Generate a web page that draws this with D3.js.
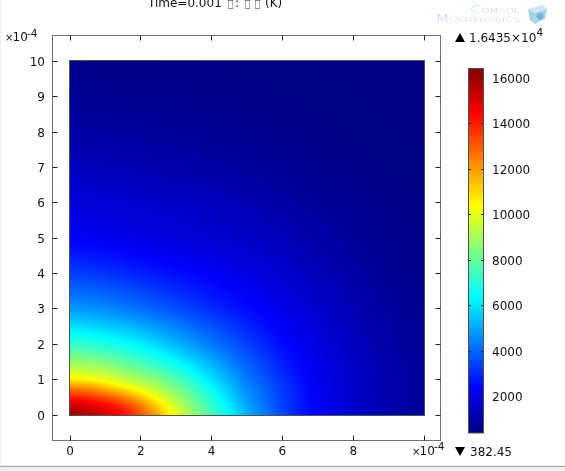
<!DOCTYPE html>
<html>
<head>
<meta charset="utf-8">
<title></title>
<script src="https://d3js.org/d3.v7.min.js"></script>
<style>
  html, body { margin: 0; padding: 0; background: #fff; overflow: hidden; }
  #chart { position: relative; width: 565px; height: 471px; }
  #chart canvas, #chart svg { position: absolute; left: 0; top: 0; }
  text { font-family: "DejaVu Sans", sans-serif; font-size: 12px; fill: #111; }
</style>
</head>
<body>
<div id="chart"></div>
<script>
// grid nodes of the surface, in units of 1e-4
var xNodes = [0, 0.5, 1, 1.5, 2, 2.5, 3, 3.5, 4, 4.5, 5, 6, 7, 8, 9, 10];
var yNodes = [0, 0.25, 0.5, 0.75, 1, 1.5, 2, 2.5, 3, 4, 5, 6, 7, 8, 9, 10];

// temperature, one row per yNodes entry
var temperature = [
  [16435, 15800, 15200, 14550, 13370, 11940, 10220, 8860, 7670, 6560, 5300, 3470, 2230, 1590, 1130, 750],
  [15245, 15050, 14600, 13725, 12720, 11050, 9550, 8430, 7230, 6058, 4981, 3400, 2224, 1590, 1130, 750],
  [13935, 13700, 13220, 12560, 11350, 10062, 9023, 7956, 6846, 5800, 4800, 3350, 2205, 1590, 1130, 745],
  [12565, 12380, 11525, 10685, 9896, 9135, 8355, 7400, 6402, 5490, 4580, 3300, 2170, 1560, 1110, 735],
  [10415, 10250, 9900, 9400, 8900, 8420, 7620, 6800, 5970, 5130, 4320, 3116, 2150, 1600, 1120, 745],
  [8736, 8580, 8350, 7860, 7365, 6875, 6350, 5730, 5090, 4440, 3890, 2820, 2040, 1460, 1075, 700],
  [7258, 7020, 6770, 6529, 6180, 5710, 5240, 4775, 4310, 3860, 3400, 2500, 1910, 1380, 1000, 670],
  [5930, 5790, 5600, 5370, 5070, 4740, 4400, 4030, 3670, 3300, 2930, 2260, 1760, 1310, 960, 650],
  [4750, 4670, 4530, 4350, 4090, 3830, 3570, 3300, 3040, 2770, 2510, 2048, 1604, 1216, 876, 620],
  [3325, 3260, 3150, 3000, 2850, 2690, 2560, 2430, 2270, 2110, 1950, 1635, 1320, 1010, 700, 570],
  [2268, 2210, 2130, 2050, 1960, 1880, 1800, 1720, 1650, 1580, 1510, 1320, 1050, 790, 630, 520],
  [1800, 1770, 1720, 1670, 1610, 1550, 1510, 1450, 1400, 1300, 1200, 990, 790, 660, 530, 470],
  [1350, 1320, 1270, 1220, 1170, 1120, 1070, 1020, 970, 920, 850, 730, 620, 520, 460, 430],
  [975, 950, 920, 890, 860, 820, 790, 760, 720, 680, 650, 570, 500, 455, 420, 400],
  [680, 675, 665, 650, 635, 620, 600, 580, 560, 540, 520, 480, 450, 420, 400, 390],
  [520, 515, 510, 505, 495, 485, 475, 465, 455, 445, 435, 420, 405, 395, 385, 382]
];

var tMin = 382.45, tMax = 16435;
var axisTicks = [0, 1, 2, 3, 4, 5, 6, 7, 8, 9, 10];
var xLabelTicks = [0, 2, 4, 6, 8];
var barTicks = [2000, 4000, 6000, 8000, 10000, 12000, 14000, 16000];
var jetStops = [0, 0.125, 0.375, 0.625, 0.875, 1];
var jetColors = ["#000080", "#0000ff", "#00ffff", "#ffff00", "#ff0000", "#800000"];

var width = 565, height = 471;

var x = d3.scaleLinear().domain([0, 10]).range([69.5, 423.5]);
var y = d3.scaleLinear().domain([0, 10]).range([414.5, 61]);
var barY = d3.scaleLinear().domain([tMin, tMax]).range([433, 68]);

var color = d3.scaleLinear()
  .domain(jetStops.map(function (s) { return tMin + s * (tMax - tMin); }))
  .range(jetColors)
  .clamp(true);

// canvas for the surface and the colour bar
var canvas = d3.select("#chart").append("canvas")
  .attr("width", width).attr("height", height);
var ctx = canvas.node().getContext("2d");

// each column of the table as a scale along y, then blend across x
var columns = xNodes.map(function (_, i) {
  return d3.scaleLinear().domain(yNodes).range(temperature.map(function (r) { return r[i]; }));
});
var px0 = Math.round(x(0)), px1 = Math.round(x(10));
var py0 = Math.round(y(10)), py1 = Math.round(y(0));
var gridW = px1 - px0, gridH = py1 - py0;
var field = new Float64Array(gridW * gridH);
for (var py = 0; py < gridH; py++) {
  var yv = y.invert(py0 + py + 0.5);
  var rowScale = d3.scaleLinear().domain(xNodes).range(columns.map(function (c) { return c(yv); }));
  for (var px = 0; px < gridW; px++) {
    field[py * gridW + px] = rowScale(x.invert(px0 + px + 0.5));
  }
}
// soften the creases between table nodes, the original is smooth shading
d3.blur2({data: field, width: gridW, height: gridH}, 4);
for (var py = 0; py < gridH; py++) {
  for (var px = 0; px < gridW; px++) {
    ctx.fillStyle = color(field[py * gridW + px]);
    ctx.fillRect(px0 + px, py0 + py, 1, 1);
  }
}

// colour bar
for (var by = 68; by < 433; by++) {
  ctx.fillStyle = color(barY.invert(by + 0.5));
  ctx.fillRect(468, by, 16, 1);
}

var svg = d3.select("#chart").append("svg")
  .attr("width", width).attr("height", height);

// window edge
svg.append("rect").attr("x", 0).attr("y", 0).attr("width", 1).attr("height", 466).attr("fill", "#eeeeee");
svg.append("rect").attr("x", 0).attr("y", 465).attr("width", width).attr("height", 6).attr("fill", "#efefef");
svg.append("line").attr("x1", 0).attr("x2", width).attr("y1", 466.5).attr("y2", 466.5).attr("stroke", "#a9a9a9");

// axes box
var box = { left: 52.5, right: 440.5, top: 35.5, bottom: 440.5 };
svg.append("rect")
  .attr("x", box.left).attr("y", box.top)
  .attr("width", box.right - box.left).attr("height", box.bottom - box.top)
  .attr("fill", "none").attr("stroke", "#707070");

// surface outline
svg.append("rect")
  .attr("x", px0 - 0.5).attr("y", py0 - 0.5)
  .attr("width", gridW + 1).attr("height", gridH + 1)
  .attr("fill", "none").attr("stroke", "#505050");

var ticks = svg.append("g").attr("stroke", "#222").attr("fill", "none");
axisTicks.forEach(function (t) {
  var py = Math.round(y(t)) + 0.5;
  ticks.append("line").attr("x1", box.left).attr("x2", box.left + 5).attr("y1", py).attr("y2", py);
  ticks.append("line").attr("x1", box.right - 5).attr("x2", box.right).attr("y1", py).attr("y2", py);
  svg.append("text").attr("x", 45).attr("y", py + 4.5).attr("text-anchor", "end").text(t);
});
xLabelTicks.concat([10]).forEach(function (t) {
  var px = Math.round(x(t)) + 0.5;
  ticks.append("line").attr("x1", px).attr("x2", px).attr("y1", box.top).attr("y2", box.top + 5);
  ticks.append("line").attr("x1", px).attr("x2", px).attr("y1", box.bottom - 5).attr("y2", box.bottom);
});
xLabelTicks.forEach(function (t) {
  svg.append("text").attr("x", x(t) + 0.5).attr("y", 455).attr("text-anchor", "middle").text(t);
});

// ×10^-4 on both axes
function expo(ex, ey, supY, power) {
  svg.append("text").attr("x", ex).attr("y", ey).style("font-size", "10px").text("×");
  svg.append("text").attr("x", ex + 7.5).attr("y", ey).text("10");
  svg.append("text").attr("x", ex + 22).attr("y", supY).style("font-size", "10.5px").text(power);
}
expo(5, 41, 37, "-4");
expo(412, 455, 449.5, "-4");

// colour bar frame, ticks, labels
svg.append("rect").attr("x", 468.5).attr("y", 68.5).attr("width", 15).attr("height", 364.5)
  .attr("fill", "none").attr("stroke", "#505050");
barTicks.forEach(function (t) {
  var py = Math.round(barY(t)) + 0.5;
  ticks.append("line").attr("x1", 468).attr("x2", 471).attr("y1", py).attr("y2", py);
  ticks.append("line").attr("x1", 481).attr("x2", 484).attr("y1", py).attr("y2", py);
  svg.append("text").attr("x", 492).attr("y", py + 4.5).text(t);
});

// max and min markers
svg.append("path").attr("d", "M455,42 L465,42 L460,33 Z").attr("fill", "#000");
svg.append("path").attr("d", "M455,447 L465,447 L460,456 Z").attr("fill", "#000");
svg.append("text").attr("x", 469).attr("y", 42).text("1.6435×10");
svg.append("text").attr("x", 536.5).attr("y", 36).style("font-size", "10.5px").text("4");
svg.append("text").attr("x", 470).attr("y", 456).text("382.45");

// title, top is cut off by the window, missing glyphs show as narrow boxes
function titleBox(bx) {
  svg.append("text").attr("x", bx).attr("y", 7).style("font-size", "11px")
    .attr("textLength", 6).attr("lengthAdjust", "spacingAndGlyphs").text("□");
}
svg.append("text").attr("x", 148).attr("y", 7).text("Time=0.001");
titleBox(227.5);
svg.append("text").attr("x", 235).attr("y", 7).text(":");
titleBox(244.5);
titleBox(254.5);
svg.append("text").attr("x", 265).attr("y", 7).text("(K)");

// logo
var logoColor = "#b4d6ea";
svg.append("text").attr("x", 470).attr("y", 13).attr("textLength", 50).attr("lengthAdjust", "spacingAndGlyphs")
  .style("font-size", "10.5px").style("font-weight", "200").style("font-variant", "small-caps")
  .style("fill", logoColor).text("Comsol");
svg.append("text").attr("x", 435).attr("y", 22).attr("textLength", 85).attr("lengthAdjust", "spacingAndGlyphs")
  .style("font-size", "10.5px").style("font-weight", "200").style("font-variant", "small-caps")
  .style("fill", logoColor).text("Multiphysics");
svg.append("path").attr("d", "M528,9 L542,5 L547,9 L534,13 Z").attr("fill", "#cfe7f3");
svg.append("path").attr("d", "M528,9 L534,13 L535,24 L530,20 Z").attr("fill", "#a5d2e9");
svg.append("path").attr("d", "M534,13 L547,9 L545,19 L535,24 Z").attr("fill", "#a9d5ea");
svg.append("circle").attr("cx", 540).attr("cy", 16).attr("r", 3.5).attr("fill", "#6aaad4").attr("opacity", 0.8);
</script>
</body>
</html>
